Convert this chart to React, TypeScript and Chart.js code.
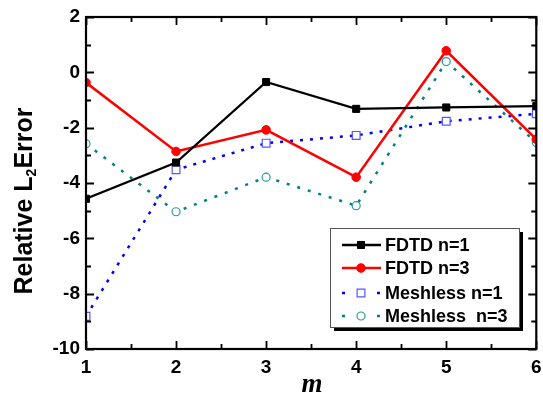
import React, { useEffect, useRef } from "react";
import { Chart, registerables } from "chart.js";

Chart.register(...registerables);

const mValues = [1, 2, 3, 4, 5, 6];
const fdtdN1 = [-4.57, -3.26, -0.35, -1.32, -1.27, -1.22];
const fdtdN3 = [-0.37, -2.86, -2.08, -3.79, 0.78, -2.42];
const meshN1 = [-8.82, -3.52, -2.56, -2.28, -1.77, -1.5];
const meshN3 = [-2.58, -5.04, -3.79, -4.82, 0.39, -2.54];
const seriesLabels = ["FDTD n=1", "FDTD n=3", "Meshless n=1", "Meshless  n=3"];
const yTicks = [-10, -8, -6, -4, -2, 0, 2];
const xTicks = [1, 2, 3, 4, 5, 6];

const SANS = "'Liberation Sans', Arial, sans-serif";
const SERIF = "'Liberation Serif', 'Times New Roman', serif";

const toPts = (ys: number[]) => ys.map((y, i) => ({ x: mValues[i], y }));

function drawMarker(ctx: CanvasRenderingContext2D, style: string, x: number, y: number, r: number, fill: string | null, stroke: string, lw: number) {
  ctx.save();
  ctx.beginPath();
  if (style === "rect") {
    const s = Math.SQRT1_2 * r;
    ctx.rect(x - s, y - s, 2 * s, 2 * s);
  } else {
    ctx.arc(x, y, r, 0, Math.PI * 2);
  }
  if (fill) {
    ctx.fillStyle = fill;
    ctx.fill();
  }
  ctx.lineWidth = lw;
  ctx.strokeStyle = stroke;
  ctx.stroke();
  ctx.restore();
}

const framePlugin = {
  id: "frame",
  afterDatasetsDraw(chart: any) {
    const { ctx, chartArea: a, scales } = chart;
    const xs = scales.x;
    const ys = scales.y;
    ctx.save();
    ctx.strokeStyle = "#000";
    ctx.lineWidth = 2.2;
    ctx.strokeRect(a.left, a.top, a.right - a.left, a.bottom - a.top);
    ctx.lineWidth = 1.8;
    ctx.beginPath();
    for (let v = 1; v <= 6.001; v += 0.5) {
      const px = Math.round(xs.getPixelForValue(v)) + 0.5;
      const len = Math.abs(v - Math.round(v)) < 1e-6 ? 8 : 5;
      ctx.moveTo(px, a.bottom);
      ctx.lineTo(px, a.bottom - len);
      ctx.moveTo(px, a.top);
      ctx.lineTo(px, a.top + len);
    }
    for (let v = -10; v <= 2.001; v += 1) {
      const py = Math.round(ys.getPixelForValue(v)) + 0.5;
      const len = Math.abs(v % 2) < 1e-6 ? 8 : 5;
      ctx.moveTo(a.left, py);
      ctx.lineTo(a.left + len, py);
      ctx.moveTo(a.right, py);
      ctx.lineTo(a.right - len, py);
    }
    ctx.stroke();
    ctx.restore();
  },
  afterDraw(chart: any) {
    const { ctx } = chart;
    // Y title with subscript
    ctx.save();
    ctx.fillStyle = "#000";
    ctx.translate(32, 201);
    ctx.rotate(-Math.PI / 2);
    ctx.textBaseline = "alphabetic";
    const big = `bold 25px ${SANS}`;
    const small = `bold 14px ${SANS}`;
    ctx.font = big;
    const w1 = ctx.measureText("Relative L").width;
    const w3 = ctx.measureText("Error").width;
    ctx.font = small;
    const w2 = ctx.measureText("2").width;
    let x = -(w1 + w2 + w3) / 2;
    ctx.font = big;
    ctx.fillText("Relative L", x, 0);
    x += w1;
    ctx.font = small;
    ctx.fillText("2", x, 4);
    x += w2;
    ctx.font = big;
    ctx.fillText("Error", x, 0);
    ctx.restore();

    // X title
    ctx.save();
    ctx.fillStyle = "#000";
    ctx.font = `italic bold 27px ${SERIF}`;
    ctx.textAlign = "center";
    ctx.textBaseline = "alphabetic";
    ctx.fillText("m", 312, 392);
    ctx.restore();

    // Legend
    const bx = 330, by = 228, bw = 189, bh = 99;
    ctx.save();
    ctx.fillStyle = "#000";
    ctx.fillRect(bx + 4, by + 4, bw, bh);
    ctx.fillStyle = "#fff";
    ctx.fillRect(bx, by, bw, bh);
    ctx.strokeStyle = "#555";
    ctx.lineWidth = 1;
    ctx.strokeRect(bx + 0.5, by + 0.5, bw, bh);
    const rows = [245, 268, 293, 316];
    chart.data.datasets.forEach((ds: any, i: number) => {
      const y = rows[i];
      ctx.save();
      ctx.strokeStyle = ds.borderColor;
      ctx.lineWidth = ds.borderWidth;
      ctx.beginPath();
      if (ds.borderDash && ds.borderDash.length) {
        ctx.moveTo(342, y);
        ctx.lineTo(345, y);
        ctx.moveTo(377, y);
        ctx.lineTo(380, y);
      } else {
        ctx.moveTo(342, y);
        ctx.lineTo(381, y);
      }
      ctx.stroke();
      ctx.restore();
      const filled = ds.pointBackgroundColor !== "#fff";
      drawMarker(ctx, ds.pointStyle, 361, y, ds.pointRadius, filled ? ds.pointBackgroundColor : "#fff", ds.pointBorderColor, ds.pointBorderWidth);
      ctx.fillStyle = "#000";
      ctx.font = `bold 18px ${SANS}`;
      ctx.textBaseline = "middle";
      ctx.textAlign = "left";
      ctx.fillText(ds.label, 385, y + 1);
    });
    ctx.restore();
  },
};

export default function App() {
  const ref = useRef<HTMLCanvasElement>(null);
  useEffect(() => {
    if (!ref.current) return;
    const chart = new Chart(ref.current, {
      type: "line",
      data: {
        datasets: [
          {
            label: seriesLabels[0],
            data: toPts(fdtdN1),
            borderColor: "#000",
            borderWidth: 2.3,
            pointStyle: "rect",
            pointRadius: 5,
            pointBackgroundColor: "#000",
            pointBorderColor: "#000",
            pointBorderWidth: 1,
            clip: 0,
          },
          {
            label: seriesLabels[1],
            data: toPts(fdtdN3),
            borderColor: "#ff0000",
            borderWidth: 2.5,
            pointStyle: "circle",
            pointRadius: 4.3,
            pointBackgroundColor: "#ff0000",
            pointBorderColor: "#ff0000",
            pointBorderWidth: 1,
            clip: 0,
          },
          {
            label: seriesLabels[2],
            data: toPts(meshN1),
            borderColor: "#0000ff",
            borderWidth: 2.5,
            borderDash: [3, 7],
            pointStyle: "rect",
            pointRadius: 5.5,
            pointBackgroundColor: "#fff",
            pointBorderColor: "#5555ff",
            pointBorderWidth: 1.2,
            clip: 0,
          },
          {
            label: seriesLabels[3],
            data: toPts(meshN3),
            borderColor: "#008080",
            borderWidth: 2.5,
            borderDash: [3, 8],
            pointStyle: "circle",
            pointRadius: 4,
            pointBackgroundColor: "#fff",
            pointBorderColor: "#2a9a9a",
            pointBorderWidth: 1.2,
            clip: 0,
          },
        ] as any,
      },
      options: {
        responsive: false,
        animation: false,
        layout: { padding: { top: 17, right: 4, left: 0, bottom: 0 } },
        plugins: { legend: { display: false }, tooltip: { enabled: false } },
        scales: {
          x: {
            type: "linear",
            min: 1,
            max: 6,
            afterBuildTicks: (s: any) => {
              s.ticks = xTicks.map((v) => ({ value: v }));
            },
            afterFit: (s: any) => {
              s.height = 47;
              s.paddingLeft = 0;
              s.paddingRight = 0;
            },
            grid: { display: false, drawTicks: false },
            border: { display: false },
            ticks: {
              color: "#000",
              padding: 7,
              maxRotation: 0,
              font: { family: SANS, size: 19, weight: "bold" },
            },
          },
          y: {
            type: "linear",
            min: -10,
            max: 2,
            afterBuildTicks: (s: any) => {
              s.ticks = yTicks.map((v) => ({ value: v }));
            },
            afterFit: (s: any) => {
              s.width = 86;
              s.paddingTop = 0;
              s.paddingBottom = 0;
            },
            grid: { display: false, drawTicks: false },
            border: { display: false },
            ticks: {
              color: "#000",
              padding: 6,
              font: { family: SANS, size: 19, weight: "bold" },
            },
          },
        },
      } as any,
      plugins: [framePlugin],
    });
    return () => chart.destroy();
  }, []);
  return (
    <canvas
      ref={ref}
      width={543}
      height={396}
      style={{ position: "absolute", left: 0, top: 0, width: 543, height: 396 }}
    />
  );
}
